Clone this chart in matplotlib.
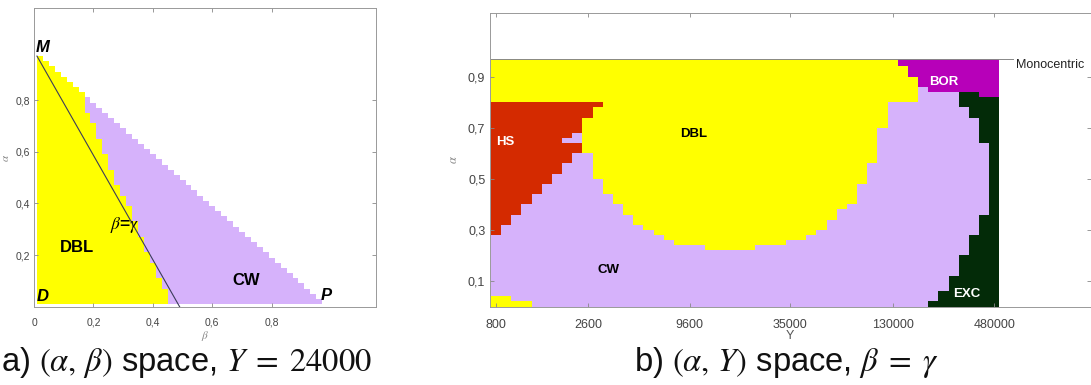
import matplotlib.pyplot as plt
import numpy as np
from matplotlib.colors import ListedColormap
from matplotlib.ticker import NullLocator

plt.rcParams['mathtext.fontset'] = 'stix'
plt.rcParams['font.family'] = ['Liberation Sans', 'DejaVu Sans']

# region codes and colours
CW, DBL, HS, BOR, EXC = 0, 1, 2, 3, 4
region_colors = ['#D6B2FB', '#FFFF00', '#D42A00', '#B700B9', '#032B08']

# ---------------- panel a) (alpha, beta) space, Y = 24000 ----------------
# grid vertices, same for beta (x) and alpha (y)
ab_edges = np.round(np.arange(0.01, 0.98, 0.02), 2)
# beta where DBL turns into CW, one value per alpha row (bottom -> top)
dbl_cw_beta = [0.45, 0.45, 0.45, 0.43, 0.43, 0.41, 0.41, 0.41, 0.39, 0.39,
               0.37, 0.37, 0.37, 0.35, 0.35, 0.35, 0.33, 0.33, 0.33, 0.31,
               0.31, 0.29, 0.29, 0.27, 0.27, 0.27, 0.25, 0.25, 0.25, 0.23,
               0.23, 0.23, 0.21, 0.21, 0.21, 0.19, 0.19, 0.17, 0.17, 0.17,
               1.0, 1.0, 1.0, 1.0, 1.0, 1.0, 1.0, 1.0]
eq_line_beta = [0.01, 0.49]
eq_line_alpha = [0.97, 0.0]

# ---------------- panel b) (alpha, Y) space, beta = gamma ----------------
Y_grid = np.geomspace(800, 480000, 50)
alpha_edges_b = np.append(np.round(np.arange(0, 0.97, 0.02), 2), 0.97)
Y_ticks = [800, 2600, 9600, 35000, 130000, 480000]
# per Y column (left -> right): alpha levels of the region borders
cw_top = [0.28, 0.32, 0.36, 0.40, 0.44, 0.48, 0.52, 0.56, 0.60, 0.60,
          0.50, 0.44, 0.40, 0.36, 0.32, 0.30, 0.28, 0.26, 0.24, 0.24,
          0.24, 0.22, 0.22, 0.22, 0.22, 0.22, 0.24, 0.24, 0.24, 0.26,
          0.26, 0.28, 0.30, 0.34, 0.38, 0.40, 0.48, 0.56, 0.70, 0.80,
          0.80, 0.80, 0.86, 0.84, 0.84, 0.84, 0.84, 0.84, 0.84, 0.84]
hs_bottom = [0.28, 0.32, 0.36, 0.40, 0.44, 0.48, 0.52, 0.56, 0.60, 0.74,
             0.78] + [0.80] * 39
hs_top = 0.80
dbl_floor = [0.04, 0.04, 0.02, 0.02] + [0.0] * 46
bor_bottom = [0.97] * 40 + [0.94, 0.90, 0.86, 0.84, 0.84, 0.84, 0.84, 0.84,
                            0.82, 0.82]
exc_low_top = [0.0] * 43 + [0.02, 0.06, 0.12, 0.20, 0.28, 0.36, 0.82]
exc_high_bottom = [None] * 46 + [0.78, 0.74, 0.64, 0.82]
cw_holes = [(7, 0.64), (8, 0.64), (8, 0.66)]   # (column, alpha bottom)

# ---------------- build the region grids ----------------
nA = len(ab_edges) - 1
ab_mid = (ab_edges[:-1] + ab_edges[1:]) / 2
za = np.full((nA, nA), np.nan)
for j in range(nA):
    for i in range(nA - j):
        za[j, i] = DBL if ab_mid[i] < dbl_cw_beta[j] else CW

r = np.sqrt(Y_grid[1] / Y_grid[0])
Y_edges = np.append(Y_grid / r, Y_grid[-1] * r)
a_mid = (alpha_edges_b[:-1] + alpha_edges_b[1:]) / 2
zb = np.zeros((len(a_mid), len(Y_grid)))
for k in range(len(Y_grid)):
    for j, a in enumerate(a_mid):
        c = DBL if a > cw_top[k] else CW
        if a < dbl_floor[k]:
            c = DBL
        if hs_bottom[k] < a < hs_top:
            c = HS
        if a > bor_bottom[k]:
            c = BOR
        if a < exc_low_top[k]:
            c = EXC
        if exc_high_bottom[k] is not None and exc_high_bottom[k] < a < bor_bottom[k]:
            c = EXC
        zb[j, k] = c
for k, a0 in cw_holes:
    zb[np.argmin(np.abs(alpha_edges_b[:-1] - a0)), k] = CW

cmap = ListedColormap(region_colors)
W, H = 1091, 385
fig = plt.figure(figsize=(W / 100, H / 100), dpi=100)
ax1 = fig.add_axes([34 / W, 1 - 306.7 / H, 341.7 / W, 298.4 / H])
ax2 = fig.add_axes([489.5 / W, 1 - 306.5 / H, 601 / W, 293.7 / H])

# ---- panel a ----
ax1.pcolormesh(ab_edges, ab_edges, np.ma.masked_invalid(za), cmap=cmap,
               vmin=-0.5, vmax=4.5)
ax1.plot(eq_line_beta, eq_line_alpha, color='#3c3c5a', lw=0.8)
ax1.set_xlim(0, 1.15)
ax1.set_ylim(0, 1.155)
ax1.set_xticks([0, 0.2, 0.4, 0.6, 0.8])
ax1.set_xticklabels(['0', '0,2', '0,4', '0,6', '0,8'])
ax1.set_yticks([0.2, 0.4, 0.6, 0.8])
ax1.set_yticklabels(['0,2', '0,4', '0,6', '0,8'])
ax1.set_xlabel(r'$\beta$', fontsize=8, color='#888', labelpad=1)
ax1.set_ylabel(r'$\alpha$', fontsize=8, color='#888', labelpad=3)
lab = dict(fontsize=12, fontweight='bold', style='italic', va='center')
ax1.text(0.005, 1.005, 'M', ha='left', **lab)
ax1.text(0.01, 0.04, 'D', ha='left', **lab)
ax1.text(0.965, 0.045, 'P', ha='left', **lab)
ax1.text(0.145, 0.23, 'DBL', ha='center', va='center', fontsize=12,
         fontweight='bold')
ax1.text(0.715, 0.10, 'CW', ha='center', va='center', fontsize=12,
         fontweight='bold')
ax1.text(0.305, 0.315, r'$\beta$=$\gamma$', ha='center', va='center',
         fontsize=12.5, fontweight='bold')

# ---- panel b ----
ax2.pcolormesh(Y_edges, alpha_edges_b, zb, cmap=cmap, vmin=-0.5, vmax=4.5)
ax2.set_xscale('log')
ax2.plot([Y_edges[0], 6.1e5], [0.97, 0.97], color='#888', lw=0.7,
         clip_on=False)
ax2.text(6.35e5, 0.945, 'Monocentric', fontsize=9, ha='left', va='center',
         color='#222')
ax2.set_xlim(736, 1.648e6)
ax2.set_ylim(0, 1.15)
ax2.set_xticks(Y_ticks)
ax2.set_xticklabels([str(v) for v in Y_ticks])
ax2.xaxis.set_minor_locator(NullLocator())
ax2.set_yticks([0.1, 0.3, 0.5, 0.7, 0.9])
ax2.set_yticklabels(['0,1', '0,3', '0,5', '0,7', '0,9'])
ax2.set_xlabel('Y', fontsize=9, color='#555', labelpad=-1)
ax2.set_ylabel(r'$\alpha$', fontsize=9, color='#888', labelpad=6)
blab = dict(fontsize=9.5, fontweight='bold', ha='center', va='center')
ax2.text(898, 0.645, 'HS', color='white', **blab)
ax2.text(10100, 0.674, 'DBL', color='black', **blab)
ax2.text(3370, 0.141, 'CW', color='black', **blab)
ax2.text(252000, 0.879, 'BOR', color='white', **blab)
ax2.text(335000, 0.05, 'EXC', color='white', **blab)

for ax, fs in ((ax1, 7.5), (ax2, 9)):
    ax.tick_params(direction='in', top=True, right=True, length=3, width=0.6,
                   color='#888', labelsize=fs, labelcolor='#444', pad=3)
    for s in ax.spines.values():
        s.set_color('#999')
        s.set_linewidth(0.7)
ax1.tick_params(axis='x', pad=8)
ax2.tick_params(axis='x', pad=9)

# captions
cap = dict(fontsize=23.5, ha='center', va='center', color='#111')
fig.text(187 / W, 1 - 362 / H, r'a) $(\alpha,\,\beta)$ space, $Y\;=\;24000$',
         **cap)
fig.text(786 / W, 1 - 362 / H, r'b) $(\alpha,\,Y)$ space, $\beta\;=\;\gamma$',
         **cap)

fig.savefig('out.png', dpi=100)
